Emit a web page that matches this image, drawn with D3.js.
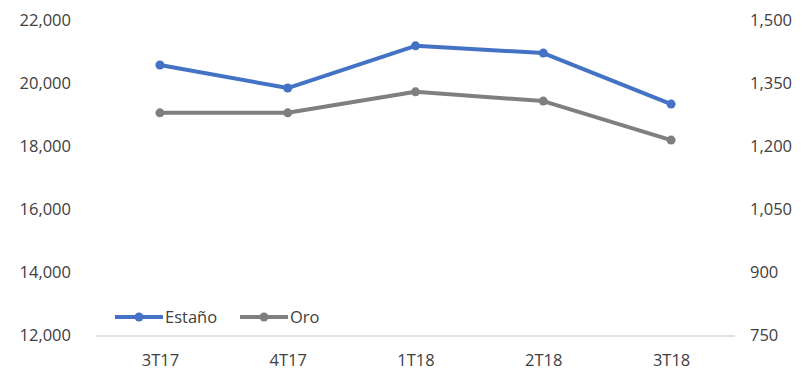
<!DOCTYPE html>
<html>
<head>
<meta charset="utf-8">
<script src="https://cdn.jsdelivr.net/npm/d3@7"></script>
<style>
  body { margin: 0; background: #fff; }
  text { font-family: "Open Sans", sans-serif; fill: #404040; }
</style>
</head>
<body>
<svg id="chart"></svg>
<script>
// Chart data
const categories = ["3T17", "4T17", "1T18", "2T18", "3T18"];
const estanoValues = [20570, 19840, 21180, 20950, 19330];
const oroValues = [1279, 1279, 1329, 1307, 1214];
const leftTicks = [12000, 14000, 16000, 18000, 20000, 22000];
const rightTicks = [750, 900, 1050, 1200, 1350, 1500];

const width = 805, height = 377;
const plot = { left: 96, right: 735, top: 20, bottom: 335 };

const svg = d3.select("#chart").attr("width", width).attr("height", height);

const x = d3.scalePoint()
  .domain(categories)
  .range([plot.left, plot.right])
  .padding(0.5);

const yLeft = d3.scaleLinear().domain([12000, 22000]).range([plot.bottom, plot.top]);
const yRight = d3.scaleLinear().domain([750, 1500]).range([plot.bottom, plot.top]);

const fmt = d3.format(",");

// Left axis labels
svg.append("g")
  .attr("transform", `translate(${plot.left - 25},0)`)
  .call(d3.axisLeft(yLeft).tickValues(leftTicks).tickFormat(fmt).tickSize(0).tickPadding(0))
  .call(g => g.select(".domain").remove())
  .selectAll("text")
  .attr("font-size", "16.5px")
  .attr("font-family", "Open Sans, sans-serif")
  .attr("fill", "#404040");

// Right axis labels
svg.append("g")
  .attr("transform", `translate(${plot.right + 15},0)`)
  .call(d3.axisRight(yRight).tickValues(rightTicks).tickFormat(fmt).tickSize(0).tickPadding(0))
  .call(g => g.select(".domain").remove())
  .selectAll("text")
  .attr("font-size", "16.5px")
  .attr("font-family", "Open Sans, sans-serif")
  .attr("fill", "#404040");

// Category axis
svg.append("line")
  .attr("x1", plot.left).attr("x2", plot.right)
  .attr("y1", plot.bottom + 1).attr("y2", plot.bottom + 1)
  .attr("stroke", "#d9d9d9").attr("stroke-width", 1.5);

svg.append("g")
  .attr("transform", `translate(0,${plot.bottom + 19})`)
  .call(d3.axisBottom(x).tickSize(0).tickPadding(0))
  .call(g => g.select(".domain").remove())
  .selectAll("text")
  .attr("font-size", "16.5px")
  .attr("font-family", "Open Sans, sans-serif")
  .attr("fill", "#404040");

// Series
const series = [
  { name: "Estaño", values: estanoValues, scale: yLeft, color: "#4472C4" },
  { name: "Oro", values: oroValues, scale: yRight, color: "#7F7F7F" }
];

series.slice().reverse().forEach(s => {
  const line = d3.line()
    .x((d, i) => x(categories[i]))
    .y(d => s.scale(d));
  svg.append("path")
    .datum(s.values)
    .attr("d", line)
    .attr("fill", "none")
    .attr("stroke", s.color)
    .attr("stroke-width", 4)
    .attr("stroke-linejoin", "round");
  svg.append("g")
    .selectAll("circle")
    .data(s.values)
    .enter()
    .append("circle")
    .attr("cx", (d, i) => x(categories[i]))
    .attr("cy", d => s.scale(d))
    .attr("r", 4.5)
    .attr("fill", s.color);
});

// Legend
const legendItems = [
  { x: 115, name: "Estaño", color: "#4472C4" },
  { x: 240, name: "Oro", color: "#7F7F7F" }
];
const legendY = 317;
legendItems.forEach(item => {
  const g = svg.append("g");
  g.append("line")
    .attr("x1", item.x).attr("x2", item.x + 48)
    .attr("y1", legendY).attr("y2", legendY)
    .attr("stroke", item.color).attr("stroke-width", 4);
  g.append("circle")
    .attr("cx", item.x + 24).attr("cy", legendY).attr("r", 4.5)
    .attr("fill", item.color);
  g.append("text")
    .attr("x", item.x + 50).attr("y", legendY)
    .attr("dy", "0.35em")
    .attr("font-size", "16.5px")
    .text(item.name);
});
</script>
</body>
</html>
